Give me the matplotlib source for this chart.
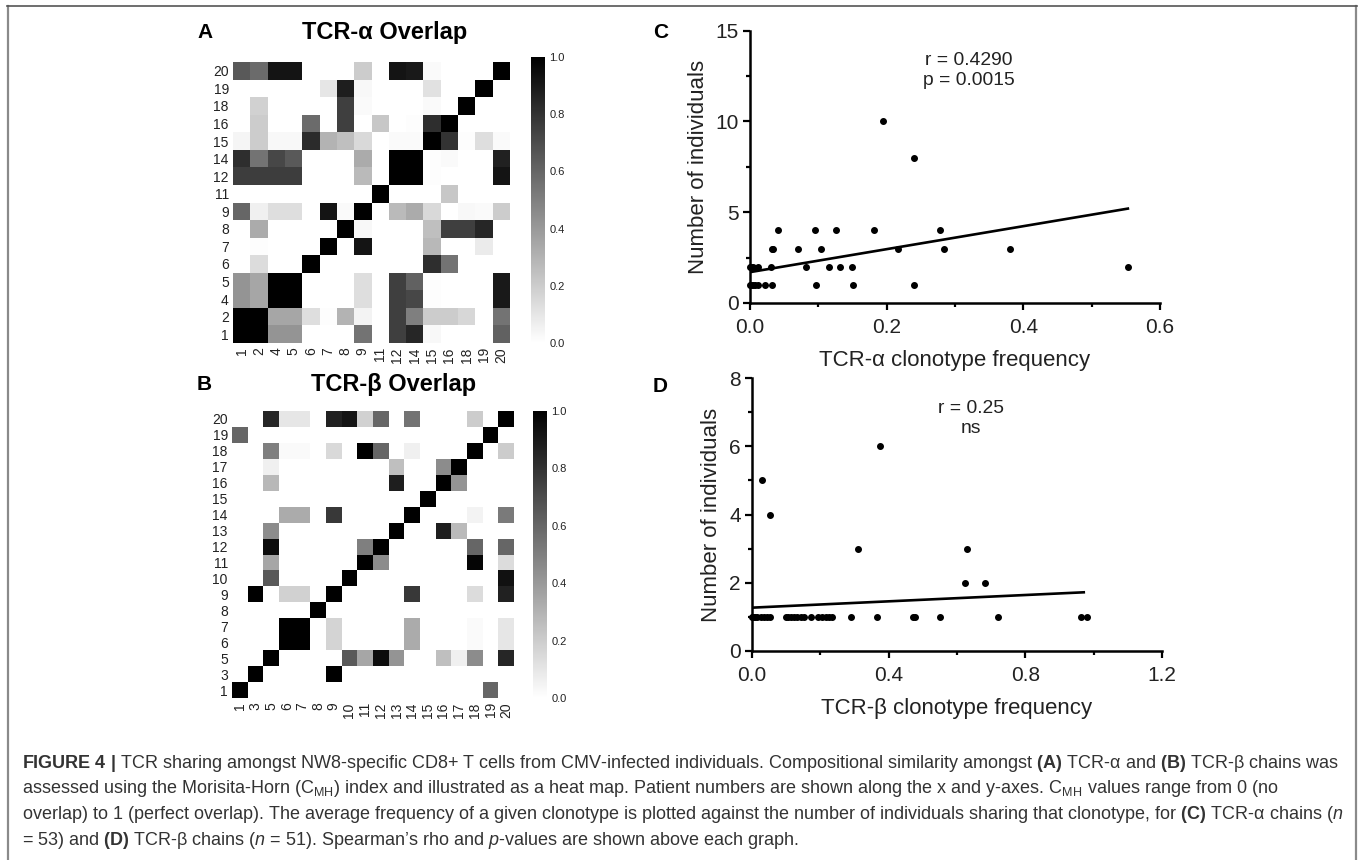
import matplotlib
matplotlib.use('Agg')
import numpy as np
import matplotlib.pyplot as plt

plt.rcParams['font.family'] = ['Liberation Sans', 'DejaVu Sans']
plt.rcParams['mathtext.fontset'] = 'custom'
plt.rcParams['mathtext.rm'] = 'Liberation Sans'
plt.rcParams['mathtext.bf'] = 'Liberation Sans:bold'
plt.rcParams['mathtext.it'] = 'Liberation Sans:italic'

W, H = 1360, 860

# heat map A, rows listed top to bottom
labels_a = ['1', '2', '4', '5', '6', '7', '8', '9', '11', '12', '14', '15', '16', '18', '19', '20']
row_20a = [.65, .58, .92, .92, 0, 0, 0, .2, 0, .92, .9, .02, 0, 0, 0, 1]
row_19a = [0, 0, 0, 0, 0, .1, .88, .03, 0, 0, 0, .12, 0, 0, 1, 0]
row_18a = [0, .18, 0, 0, 0, 0, .75, .02, 0, 0, 0, .02, 0, 1, 0, 0]
row_16a = [0, .2, 0, 0, .58, 0, .75, 0, .22, 0, .01, .82, 1, 0, 0, 0]
row_15a = [.04, .2, .03, .03, .83, .3, .25, .15, 0, .02, .02, 1, .8, .01, .13, .02]
row_14a = [.82, .55, .72, .65, 0, 0, 0, .33, 0, 1, 1, .01, .02, 0, 0, .87]
row_12a = [.76, .76, .76, .76, 0, 0, 0, .27, 0, 1, 1, .01, 0, 0, 0, .92]
row_11a = [0, 0, 0, 0, 0, 0, 0, 0, 1, 0, 0, 0, .22, 0, 0, 0]
row_9a = [.6, .06, .13, .13, 0, .92, .02, 1, 0, .27, .33, .15, 0, .03, .02, .2]
row_8a = [0, .33, 0, 0, 0, 0, 1, .03, 0, 0, 0, .25, .75, .75, .85, 0]
row_7a = [0, .01, 0, 0, 0, 1, 0, .92, 0, 0, 0, .28, 0, 0, .08, 0]
row_6a = [0, .14, 0, 0, 1, 0, 0, 0, 0, 0, 0, .82, .55, 0, 0, 0]
row_5a = [.42, .35, 1, 1, 0, 0, 0, .13, 0, .75, .62, .01, 0, 0, 0, .9]
row_4a = [.42, .35, 1, 1, 0, 0, 0, .13, 0, .75, .72, .01, 0, 0, 0, .9]
row_2a = [1, 1, .35, .35, .13, .01, .3, .05, 0, .75, .5, .2, .2, .16, 0, .55]
row_1a = [1, 1, .42, .42, 0, 0, 0, .55, 0, .75, .85, .03, 0, 0, 0, .62]
heat_a = [row_1a, row_2a, row_4a, row_5a, row_6a, row_7a, row_8a, row_9a, row_11a,
          row_12a, row_14a, row_15a, row_16a, row_18a, row_19a, row_20a]

# heat map B
labels_b = ['1', '3', '5', '6', '7', '8', '9', '10', '11', '12', '13', '14', '15', '16', '17', '18', '19', '20']
row_20b = [0, 0, .85, .1, .1, 0, .87, .92, .18, .6, 0, .55, 0, 0, 0, .2, 0, 1]
row_19b = [.6, 0, 0, 0, 0, 0, 0, 0, 0, 0, 0, 0, 0, 0, 0, 0, 1, 0]
row_18b = [0, 0, .5, .02, .02, 0, .15, 0, 1, .6, 0, .06, 0, 0, 0, 1, 0, .2]
row_17b = [0, 0, .06, 0, 0, 0, 0, 0, 0, 0, .25, 0, 0, .45, 1, 0, 0, 0]
row_16b = [0, 0, .28, 0, 0, 0, 0, 0, 0, 0, .88, 0, 0, 1, .42, 0, 0, 0]
row_15b = [0, 0, 0, 0, 0, 0, 0, 0, 0, 0, 0, 0, 1, 0, 0, 0, 0, 0]
row_14b = [0, 0, 0, .33, .33, 0, .78, 0, 0, 0, 0, 1, 0, 0, 0, .05, 0, .52]
row_13b = [0, 0, .45, 0, 0, 0, 0, 0, 0, 0, 1, 0, 0, .88, .27, 0, 0, 0]
row_12b = [0, 0, .95, 0, 0, 0, 0, 0, .5, 1, 0, 0, 0, 0, 0, .6, 0, .6]
row_11b = [0, 0, .35, 0, 0, 0, 0, 0, 1, .45, 0, 0, 0, 0, 0, .98, 0, .14]
row_10b = [0, 0, .65, 0, 0, 0, 0, 1, 0, 0, 0, 0, 0, 0, 0, 0, 0, .93]
row_9b = [0, 1, 0, .18, .18, 0, 1, 0, 0, 0, 0, .78, 0, 0, 0, .14, 0, .87]
row_8b = [0, 0, 0, 0, 0, 1, 0, 0, 0, 0, 0, 0, 0, 0, 0, 0, 0, 0]
row_7b = [0, 0, 0, 1, 1, 0, .17, 0, 0, 0, 0, .33, 0, 0, 0, .02, 0, .1]
row_6b = [0, 0, 0, 1, 1, 0, .17, 0, 0, 0, 0, .33, 0, 0, 0, .02, 0, .1]
row_5b = [0, 0, 1, 0, 0, 0, 0, .65, .35, .95, .42, 0, 0, .25, .06, .45, 0, .85]
row_3b = [0, 1, 0, 0, 0, 0, 1, 0, 0, 0, 0, 0, 0, 0, 0, 0, 0, 0]
row_1b = [1, 0, 0, 0, 0, 0, 0, 0, 0, 0, 0, 0, 0, 0, 0, 0, .6, 0]
heat_b = [row_1b, row_3b, row_5b, row_6b, row_7b, row_8b, row_9b, row_10b, row_11b,
          row_12b, row_13b, row_14b, row_15b, row_16b, row_17b, row_18b, row_19b, row_20b]

# scatter C
cx = [0, .001, .004, .007, .011, .022, .032, .096, .151, .24,
      0, .001, .005, .011, .031, .082, .116, .132, .149, .553,
      .032, .034, .07, .104, .217, .284, .38,
      .041, .095, .126, .181, .278,
      .24, .194]
cy = [1, 1, 1, 1, 1, 1, 1, 1, 1, 1,
      2, 2, 2, 2, 2, 2, 2, 2, 2, 2,
      3, 3, 3, 3, 3, 3, 3,
      4, 4, 4, 4, 4,
      8, 10]
cline_x = [0, .553]
cline_y = [1.7, 5.2]

# scatter D
dx = [0, .002, .008, .016, .025, .035, .043, .053, .099, .106, .114, .124, .133, .143,
      .153, .173, .194, .204, .217, .226, .234, .291, .366, .472, .478, .549, .72, .963, .98,
      .623, .683, .31, .629, .052, .03, .375]
dy = [1, 1, 1, 1, 1, 1, 1, 1, 1, 1, 1, 1, 1, 1,
      1, 1, 1, 1, 1, 1, 1, 1, 1, 1, 1, 1, 1, 1, 1,
      2, 2, 3, 3, 4, 5, 6]
dline_x = [0, .971]
dline_y = [1.27, 1.72]

caption = [
    r'$\mathbf{FIGURE\ 4\ |}$ TCR sharing amongst NW8-specific CD8+ T cells from CMV-infected individuals. Compositional similarity amongst $\mathbf{(A)}$ TCR-α and $\mathbf{(B)}$ TCR-β chains was',
    r'assessed using the Morisita-Horn (C$_{\mathrm{MH}}$) index and illustrated as a heat map. Patient numbers are shown along the x and y-axes. C$_{\mathrm{MH}}$ values range from 0 (no',
    r'overlap) to 1 (perfect overlap). The average frequency of a given clonotype is plotted against the number of individuals sharing that clonotype, for $\mathbf{(C)}$ TCR-α chains ($\mathit{n}$',
    r'= 53) and $\mathbf{(D)}$ TCR-β chains ($\mathit{n}$ = 51). Spearman’s rho and $\mathit{p}$-values are shown above each graph.',
]


def box(x0, y0, x1, y1):
    return [x0 / W, 1 - y1 / H, (x1 - x0) / W, (y1 - y0) / H]


def heatmap(rect, cbar_rect, values, labels):
    ax = fig.add_axes(box(*rect))
    mesh = ax.pcolormesh(np.array(values), cmap='gray_r', vmin=0, vmax=1)
    pos = np.arange(len(labels)) + 0.5
    ax.set_xticks(pos)
    ax.set_xticklabels(labels, rotation=90, fontsize=10, color='#222222')
    ax.set_yticks(pos)
    ax.set_yticklabels(labels, fontsize=10, color='#222222')
    ax.tick_params(length=0, pad=3)
    for s in ax.spines.values():
        s.set_visible(False)
    cax = fig.add_axes(box(*cbar_rect))
    cb = fig.colorbar(mesh, cax=cax, ticks=[0, .2, .4, .6, .8, 1])
    cb.outline.set_visible(False)
    cax.tick_params(length=0, labelsize=8, pad=3, labelcolor='#222222')
    return ax


def scatter(rect, x, y, lx, ly, xlim, ylim, xticks, xminor, yticks, yminor, xlabel):
    ax = fig.add_axes(box(*rect))
    ax.plot(lx, ly, color='black', lw=1.9, zorder=2)
    ax.plot(x, y, 'o', color='black', ms=4, clip_on=False, zorder=3)
    ax.set_xlim(xlim)
    ax.set_ylim(ylim)
    ax.set_xticks(xticks)
    ax.set_xticks(xminor, minor=True)
    ax.set_yticks(yticks)
    ax.set_yticks(yminor, minor=True)
    ax.tick_params(which='major', width=1.6, length=5, labelsize=15, labelcolor='#222222', pad=3)
    ax.tick_params(axis='x', which='major', pad=6)
    ax.tick_params(which='minor', width=1.6, length=3)
    ax.spines['top'].set_visible(False)
    ax.spines['right'].set_visible(False)
    ax.spines['left'].set_linewidth(1.8)
    ax.spines['bottom'].set_linewidth(1.8)
    ax.set_xlabel(xlabel, fontsize=16, labelpad=9, color='#222222')
    ax.set_ylabel('Number of individuals', fontsize=16, labelpad=5, color='#222222')
    return ax


fig = plt.figure(figsize=(W / 100, H / 100), dpi=100)

heatmap((233, 62, 510, 343), (531, 57, 545, 343), heat_a, labels_a)
heatmap((232, 411, 514, 698), (533, 411, 547, 698), heat_b, labels_b)

axc = scatter((750, 30.7, 1160, 303), cx, cy, cline_x, cline_y, (0, .6), (0, 15),
              [0, .2, .4, .6], [.1, .3, .5], [0, 5, 10, 15], [2.5, 7.5, 12.5],
              'TCR-α clonotype frequency')
axc.text(.3205, 12.8, 'r = 0.4290\np = 0.0015', fontsize=13.9, ha='center', va='center',
         linespacing=1.25, color='#222222')

axd = scatter((752, 378, 1162, 651), dx, dy, dline_x, dline_y, (0, 1.2), (0, 8),
              [0, .4, .8, 1.2], [.2, .6, 1.0], [0, 2, 4, 6, 8], [1, 3, 5, 7],
              'TCR-β clonotype frequency')
axd.text(.641, 6.82, 'r = 0.25\nns', fontsize=13.9, ha='center', va='center',
         linespacing=1.25, color='#222222')

fig.text(302 / W, 1 - 32 / H, 'TCR-α Overlap', fontsize=17, fontweight='bold', va='center')
fig.text(311 / W, 1 - 385 / H, 'TCR-β Overlap', fontsize=17, fontweight='bold', va='center')
fig.text(197 / W, 1 - 33 / H, 'A', fontsize=15, fontweight='bold', va='center')
fig.text(197 / W, 1 - 385 / H, 'B', fontsize=15, fontweight='bold', va='center')
fig.text(653 / W, 1 - 33 / H, 'C', fontsize=15, fontweight='bold', va='center')
fig.text(653 / W, 1 - 386 / H, 'D', fontsize=15, fontweight='bold', va='center')

for i, line in enumerate(caption):
    fig.text(22 / W, 1 - (763 + i * 25.7) / H, line, fontsize=13, color='#333333', va='center')

# grey frame round the panel, open at the bottom
fig.add_artist(plt.Line2D([7.5 / W, 7.5 / W], [0, 1 - 6 / H], color='#8a8a8a', lw=1.6))
fig.add_artist(plt.Line2D([1356 / W, 1356 / W], [0, 1 - 6 / H], color='#8a8a8a', lw=1.6))
fig.add_artist(plt.Line2D([7 / W, 1356.5 / W], [1 - 6 / H, 1 - 6 / H], color='#555555', lw=1.2))

plt.savefig('out.png', dpi=100)
plt.close()
